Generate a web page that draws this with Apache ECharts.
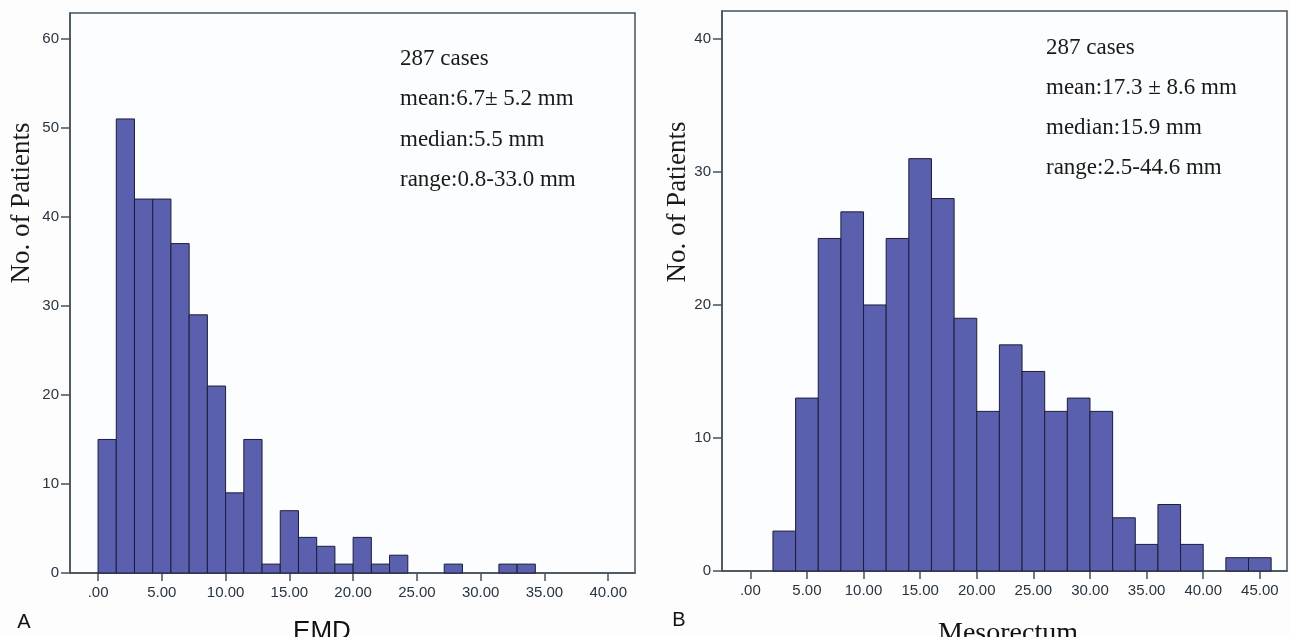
<!DOCTYPE html>
<html>
<head>
<meta charset="utf-8">
<script src="https://cdn.jsdelivr.net/npm/echarts@6/dist/echarts.min.js"></script>
<style>
html,body{margin:0;padding:0;background:#fdfdfe;}
#chart{width:1290px;height:637px;}
</style>
</head>
<body>
<div id="chart"></div>
<script>
// ---- Panel A: EMD ----
const emdBinStart = 0;
const emdBinWidth = 10 / 7;
const emdCounts = [15, 51, 42, 42, 37, 29, 21, 9, 15, 1, 7, 4, 3, 1, 4, 1, 2, 0, 0, 1, 0, 0, 1, 1];
const emdXTicks = [0, 5, 10, 15, 20, 25, 30, 35, 40];
const emdXTickLabels = ['.00', '5.00', '10.00', '15.00', '20.00', '25.00', '30.00', '35.00', '40.00'];
const emdYTicks = [0, 10, 20, 30, 40, 50, 60];
const emdNotes = ['287 cases', 'mean:6.7\u00b1 5.2 mm', 'median:5.5 mm', 'range:0.8-33.0 mm'];

// ---- Panel B: Mesorectum ----
const mesoBinStart = 0;
const mesoBinWidth = 2;
const mesoCounts = [0, 3, 13, 25, 27, 20, 25, 31, 28, 19, 12, 17, 15, 12, 13, 12, 4, 2, 5, 2, 0, 1, 1];
const mesoXTicks = [0, 5, 10, 15, 20, 25, 30, 35, 40, 45];
const mesoXTickLabels = ['.00', '5.00', '10.00', '15.00', '20.00', '25.00', '30.00', '35.00', '40.00', '45.00'];
const mesoYTicks = [0, 10, 20, 30, 40];
const mesoNotes = ['287 cases', 'mean:17.3 \u00b1 8.6 mm', 'median:15.9 mm', 'range:2.5-44.6 mm'];

const yAxisTitle = 'No. of Patients';
const xTitleA = 'EMD';
const xTitleB = 'Mesorectum';

const FRAME = '#44525c';
const LABEL = '#28343f';
const BAR = '#5a60ad';
const BAR_EDGE = '#1c1d3c';

function binData(start, width, counts) {
  return counts.map((c, i) => [start + i * width, start + (i + 1) * width, c]);
}

function renderBin(params, api) {
  const c = api.value(2);
  if (!c) return null;
  const p0 = api.coord([api.value(0), c]);
  const p1 = api.coord([api.value(1), 0]);
  return {
    type: 'rect',
    shape: { x: p0[0], y: p0[1], width: p1[0] - p0[0], height: p1[1] - p0[1] },
    style: { fill: BAR, stroke: BAR_EDGE, lineWidth: 1 }
  };
}

function xAxisCfg(grid, min, max, ticks, labels) {
  return {
    gridIndex: grid, type: 'value', min: min, max: max,
    axisLine: { show: true, onZero: false, lineStyle: { color: FRAME, width: 1.5 } },
    axisTick: { show: true, inside: false, length: 8, customValues: ticks, lineStyle: { color: FRAME, width: 1.5 } },
    axisLabel: {
      customValues: ticks, margin: 12, fontSize: 15, color: LABEL, fontFamily: 'Liberation Sans',
      formatter: v => { const i = ticks.indexOf(v); return i >= 0 ? labels[i] : ''; }
    },
    splitLine: { show: false }
  };
}

function yAxisCfg(grid, max, ticks) {
  return {
    gridIndex: grid, type: 'value', min: 0, max: max,
    axisLine: { show: true, onZero: false, lineStyle: { color: FRAME, width: 1.5 } },
    axisTick: { show: true, inside: false, length: 9, customValues: ticks, lineStyle: { color: FRAME, width: 1.5 } },
    axisLabel: { customValues: ticks, margin: 11, fontSize: 15, color: LABEL, fontFamily: 'Liberation Sans' },
    splitLine: { show: false }
  };
}

function notes(lines, x, y0, step) {
  return lines.map((t, i) => ({
    type: 'text', x: x, y: y0 + i * step,
    style: { text: t, fill: '#1a1a1a', font: '23px "Liberation Serif"', textAlign: 'left', textVerticalAlign: 'middle' }
  }));
}

const chart = echarts.init(document.getElementById('chart'), null, { renderer: 'canvas' });
chart.setOption({
  backgroundColor: '#fdfdfe',
  animation: false,
  grid: [
    { left: 70, top: 13, right: 655, bottom: 64, show: true, borderColor: FRAME, borderWidth: 1.5, backgroundColor: '#fcfdfe' },
    { left: 722, top: 11, right: 3, bottom: 66, show: true, borderColor: FRAME, borderWidth: 1.5, backgroundColor: '#fcfdfe' }
  ],
  xAxis: [
    xAxisCfg(0, -2.2, 42.1, emdXTicks, emdXTickLabels),
    xAxisCfg(1, -2.5, 47.4, mesoXTicks, mesoXTickLabels)
  ],
  yAxis: [
    yAxisCfg(0, 62.9, emdYTicks),
    yAxisCfg(1, 42.1, mesoYTicks)
  ],
  series: [
    { type: 'custom', xAxisIndex: 0, yAxisIndex: 0, renderItem: renderBin, data: binData(emdBinStart, emdBinWidth, emdCounts), encode: { x: [0, 1], y: 2 } },
    { type: 'custom', xAxisIndex: 1, yAxisIndex: 1, renderItem: renderBin, data: binData(mesoBinStart, mesoBinWidth, mesoCounts), encode: { x: [0, 1], y: 2 } }
  ],
  graphic: [
    ...notes(emdNotes, 400, 59, 40.3),
    ...notes(mesoNotes, 1046, 48, 40),
    { type: 'text', x: 22, y: 203, rotation: Math.PI / 2,
      style: { text: yAxisTitle, fill: '#1a1a1a', font: '27px "Liberation Serif"', textAlign: 'center', textVerticalAlign: 'middle' } },
    { type: 'text', x: 678, y: 202, rotation: Math.PI / 2,
      style: { text: yAxisTitle, fill: '#1a1a1a', font: '27px "Liberation Serif"', textAlign: 'center', textVerticalAlign: 'middle' } },
    { type: 'text', x: 322, y: 632,
      style: { text: xTitleA, fill: '#111', font: '26px "Liberation Sans"', textAlign: 'center', textVerticalAlign: 'middle' } },
    { type: 'text', x: 1008, y: 634,
      style: { text: xTitleB, fill: '#111', font: '28px "Liberation Serif"', textAlign: 'center', textVerticalAlign: 'middle' } },
    { type: 'text', x: 24, y: 622,
      style: { text: 'A', fill: '#111', font: '20px "Liberation Sans"', textAlign: 'center', textVerticalAlign: 'middle' } },
    { type: 'text', x: 679, y: 620,
      style: { text: 'B', fill: '#111', font: '20px "Liberation Sans"', textAlign: 'center', textVerticalAlign: 'middle' } }
  ]
});
</script>
</body>
</html>
